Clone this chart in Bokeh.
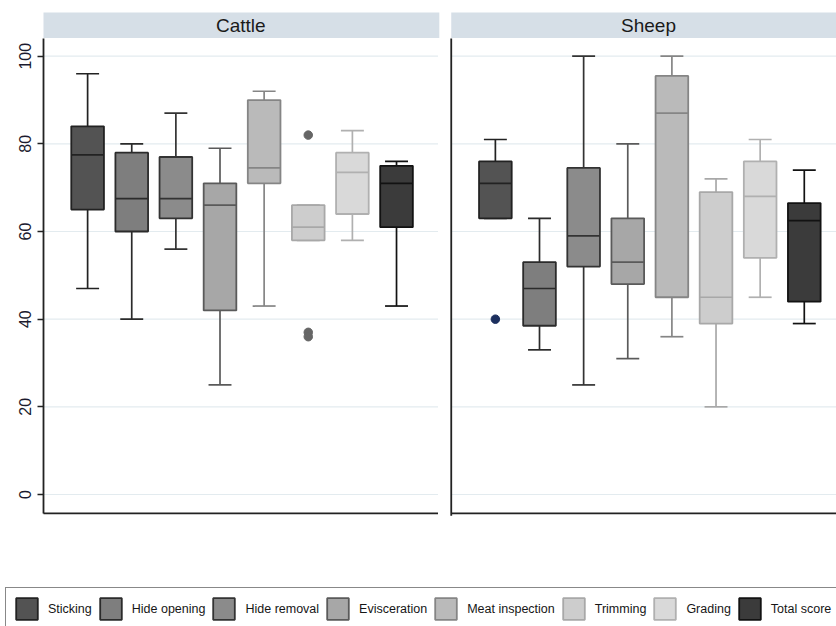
import numpy as np
from bokeh.plotting import figure
from bokeh.models import Range1d, FixedTicker
from bokeh.core.properties import value
from bokeh.embed import file_html
from bokeh.resources import INLINE

# ---------------- data ----------------
categories = ["Sticking", "Hide opening", "Hide removal", "Evisceration",
              "Meat inspection", "Trimming", "Grading", "Total score"]
panels = ["Cattle", "Sheep"]
y_ticks = [0, 20, 40, 60, 80, 100]

cattle_lower = [47, 40, 56, 25, 43, 58, 58, 43]
cattle_q1 = [65, 60, 63, 42, 71, 58, 64, 61]
cattle_median = [77.5, 67.5, 67.5, 66, 74.5, 61, 73.5, 71]
cattle_q3 = [84, 78, 77, 71, 90, 66, 78, 75]
cattle_upper = [96, 80, 87, 79, 92, 66, 83, 76]
cattle_outlier_cat = ["Trimming", "Trimming", "Trimming"]
cattle_outlier_val = [82, 37, 36]

sheep_lower = [63, 33, 25, 31, 36, 20, 45, 39]
sheep_q1 = [63, 38.5, 52, 48, 45, 39, 54, 44]
sheep_median = [71, 47, 59, 53, 87, 45, 68, 62.5]
sheep_q3 = [76, 53, 74.5, 63, 95.5, 69, 76, 66.5]
sheep_upper = [81, 63, 100, 80, 100, 72, 81, 74]
sheep_outlier_cat = ["Sticking"]
sheep_outlier_val = [40]

# ---------------- styles / layout ----------------
fill_colors = ["#535353", "#7e7e7e", "#8b8b8b", "#a7a7a7",
               "#bababa", "#cdcdcd", "#d9d9d9", "#3b3b3b"]
line_colors = ["#222222", "#2b2b2b", "#333333", "#5a5a5a",
               "#858585", "#a8a8a8", "#b0b0b0", "#121212"]
outlier_colors = {"Sticking": "#1c2f5e", "Trimming": "#666666"}
strip_color = "#d6dfe7"
grid_color = "#e3ebef"
axis_color = "#222222"
FONT = "Liberation Sans"

BOX_W = 0.74
CAP_W = 0.52
PANEL_W = 8.94
SHEEP_OFFSET = 9.24
AXIS_TOP = 104.04
AXIS_BOTTOM = -4.33
STRIP_BOTTOM = 104.15
STRIP_TOP = 109.97

p = figure(width=836, height=626, output_backend="svg", toolbar_location=None,
           x_axis_location=None, y_axis_location="left",
           x_range=Range1d(-0.974, 17.97), y_range=Range1d(-30.12, 112.71),
           min_border_left=0, min_border_right=0, min_border_top=0,
           min_border_bottom=0, outline_line_color=None)
p.grid.visible = False
p.background_fill_color = "white"

# y axis (Cattle panel), drawn at the panel's left edge
yax = p.yaxis[0]
yax.fixed_location = 0
yax.ticker = FixedTicker(ticks=y_ticks)
yax.bounds = (AXIS_BOTTOM, AXIS_TOP)
yax.axis_line_color = axis_color
yax.axis_line_width = 1.8
yax.major_tick_line_color = axis_color
yax.major_tick_line_width = 1.5
yax.major_tick_out = 6
yax.major_tick_in = 0
yax.minor_tick_line_color = None
yax.major_label_orientation = "vertical"
yax.major_label_text_font = FONT
yax.major_label_text_font_size = "16px"
yax.major_label_text_color = "#1a1a2e"
yax.major_label_standoff = 6

offsets = [0.0, SHEEP_OFFSET]

# grid lines per panel
gx0, gx1, gy = [], [], []
for off in offsets:
    for t in y_ticks:
        gx0.append(off)
        gx1.append(off + PANEL_W)
        gy.append(t)
p.segment(x0=gx0, x1=gx1, y0=gy, y1=gy, line_color=grid_color, line_width=1.2)

# strips
p.quad(left=[o for o in offsets], right=[o + PANEL_W + 0.03 for o in offsets],
       bottom=STRIP_BOTTOM, top=STRIP_TOP, fill_color=strip_color, line_color=None)
p.text(x=[o + PANEL_W / 2 for o in offsets], y=[(STRIP_BOTTOM + STRIP_TOP) / 2] * 2,
       text=panels, text_align="center", text_baseline="middle",
       text_font=value(FONT), text_font_size="19px", text_color="#1a1a1a")

# panel axis lines (bottom lines and sheep left line)
p.segment(x0=[0.0, SHEEP_OFFSET], x1=[PANEL_W, 19.0],
          y0=[AXIS_BOTTOM] * 2, y1=[AXIS_BOTTOM] * 2,
          line_color=axis_color, line_width=1.8)
p.segment(x0=[SHEEP_OFFSET], x1=[SHEEP_OFFSET], y0=[AXIS_BOTTOM - 0.5], y1=[AXIS_TOP],
          line_color=axis_color, line_width=1.8)

panel_data = [
    (cattle_lower, cattle_q1, cattle_median, cattle_q3, cattle_upper,
     cattle_outlier_cat, cattle_outlier_val),
    (sheep_lower, sheep_q1, sheep_median, sheep_q3, sheep_upper,
     sheep_outlier_cat, sheep_outlier_val),
]

pos = np.arange(1, len(categories) + 1, dtype=float)

# whiskers (behind boxes)
for off, (lo, q1, med, q3, hi, ocat, oval) in zip(offsets, panel_data):
    x = pos + off
    p.segment(x0=x, x1=x, y0=lo, y1=hi, line_color=line_colors, line_width=1.7)
    p.segment(x0=x - CAP_W / 2, x1=x + CAP_W / 2, y0=hi, y1=hi,
              line_color=line_colors, line_width=1.7)
    p.segment(x0=x - CAP_W / 2, x1=x + CAP_W / 2, y0=lo, y1=lo,
              line_color=line_colors, line_width=1.7)

# boxes, one renderer per category (used by the legend)
for i, cat in enumerate(categories):
    xs = [pos[i] + off for off in offsets]
    bottoms = [pd[1][i] for pd in panel_data]
    tops = [pd[3][i] for pd in panel_data]
    p.vbar(x=xs, bottom=bottoms, top=tops, width=BOX_W,
           fill_color=fill_colors[i], line_color=line_colors[i], line_width=1.8,
           legend_label=cat)

# medians and outliers
for off, (lo, q1, med, q3, hi, ocat, oval) in zip(offsets, panel_data):
    x = pos + off
    p.segment(x0=x - BOX_W / 2, x1=x + BOX_W / 2, y0=med, y1=med,
              line_color=line_colors, line_width=1.7)
    if ocat:
        ox = [pos[categories.index(c)] + off for c in ocat]
        oc = [outlier_colors[c] for c in ocat]
        p.scatter(x=ox, y=oval, size=8.5, fill_color=oc, line_color=oc)

# legend
lg = p.legend[0]
lg.orientation = "horizontal"
lg.location = (5, -4)
lg.glyph_width = 27
lg.glyph_height = 27
lg.label_standoff = 8
lg.spacing = 5
lg.padding = 7
lg.margin = 0
lg.border_line_color = "#111111"
lg.border_line_width = 1.5
lg.background_fill_color = "white"
lg.background_fill_alpha = 1.0
lg.label_text_font = FONT
lg.label_text_font_size = "12.5px"
lg.label_text_color = "#161616"

open("out.html", "w").write(file_html(p, INLINE))
